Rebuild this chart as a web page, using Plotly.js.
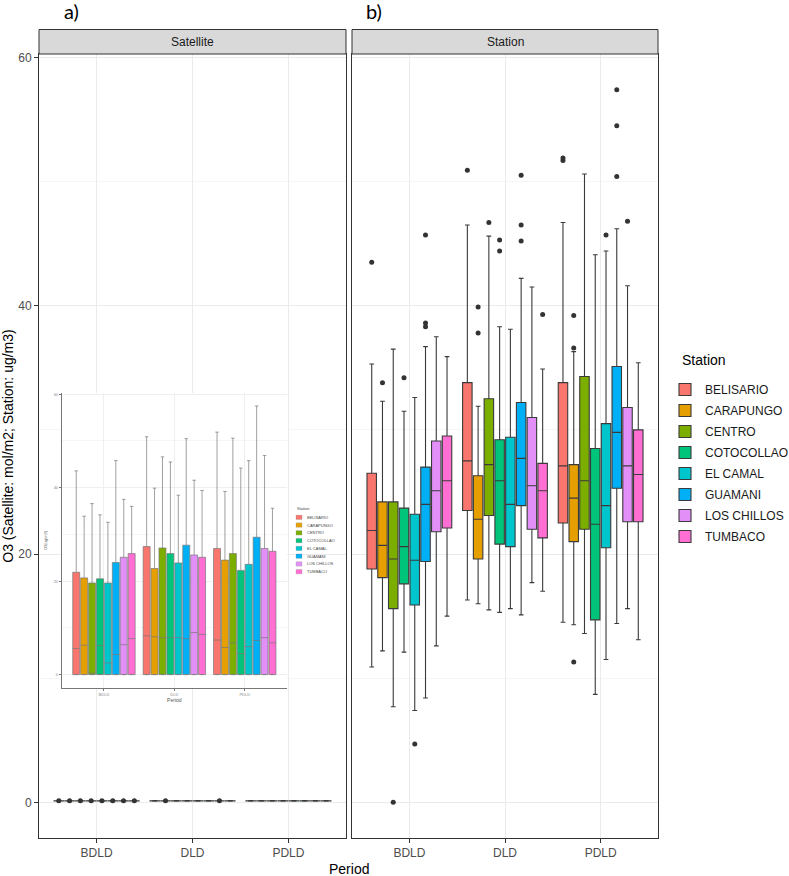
<!DOCTYPE html>
<html><head><meta charset="utf-8">
<script src="https://cdn.plot.ly/plotly-3.0.1.min.js"></script>
<style>html,body{margin:0;padding:0;background:#fff}</style>
</head><body><div id="chart" style="width:789px;height:876px"></div>
<script>
const periods = ['BDLD', 'DLD', 'PDLD'];
const stations = ['BELISARIO', 'CARAPUNGO', 'CENTRO', 'COTOCOLLAO', 'EL CAMAL', 'GUAMANI', 'LOS CHILLOS', 'TUMBACO'];
const colors = ['#F8766D', '#E69F00', '#7CAE00', '#00C47A', '#00C5CD', '#00B0F6', '#E38FF8', '#FF6FD3'];

// Station panel (ug/m3), each row = station, columns = [BDLD, DLD, PDLD]
const stLow = [[10.9,16.3,14.5],[12.2,16.0,14.3],[7.7,15.5,13.6],[12.1,15.3,8.7],[7.4,15.6,11.5],[8.4,15.1,14.4],[12.6,17.7,15.6],[15.0,17.0,13.1]];
const stQ1  = [[18.8,23.5,22.5],[18.1,19.6,21.0],[15.6,23.1,22.0],[17.6,20.8,14.7],[15.9,20.6,20.5],[19.4,23.9,25.3],[21.8,22.0,22.6],[22.1,21.3,22.6]];
const stMed = [[21.9,27.5,27.1],[20.7,22.8,24.5],[19.6,27.2,25.9],[20.6,25.9,22.4],[19.5,24.0,23.9],[24.0,27.7,29.8],[25.1,25.5,27.1],[25.9,25.1,26.4]];
const stQ3  = [[26.5,33.8,33.8],[24.2,26.3,27.2],[24.2,32.5,34.3],[23.7,29.2,28.5],[23.2,29.4,30.5],[27.0,32.2,35.1],[29.1,31.0,31.8],[29.5,27.3,30.0]];
const stHigh= [[35.3,46.5,46.7],[32.3,31.9,36.3],[36.5,45.6,50.6],[31.5,38.3,44.1],[32.6,38.1,44.4],[36.7,42.2,46.2],[37.5,41.5,41.6],[35.9,34.9,35.4]];
// Station outliers
const stOutPeriod = [
  ['BDLD','DLD','PDLD','PDLD'],
  ['BDLD','DLD','DLD','PDLD','PDLD','PDLD'],
  ['BDLD','DLD'],
  ['BDLD','DLD','DLD'],
  ['BDLD','PDLD'],
  ['BDLD','BDLD','BDLD','DLD','DLD','DLD','PDLD','PDLD','PDLD'],
  ['PDLD'],
  ['DLD']
];
const stOutValue = [
  [43.5,50.9,51.9,51.7],
  [33.8,39.9,37.8,39.2,36.6,11.3],
  [0.0,46.7],
  [34.2,45.3,44.4],
  [4.7,45.7],
  [38.3,38.6,45.7,50.5,46.5,45.2,57.4,54.5,50.4],
  [46.8],
  [39.3]
];

// Satellite panel (mol/m2) - all values close to zero
const satLow = [[0.10,0.10,0.10],[0.10,0.10,0.10],[0.10,0.10,0.10],[0.10,0.10,0.10],[0.10,0.10,0.10],[0.10,0.10,0.10],[0.10,0.10,0.10],[0.10,0.10,0.10]];
const satQ1  = [[0.11,0.11,0.11],[0.11,0.11,0.11],[0.11,0.11,0.11],[0.11,0.11,0.11],[0.11,0.11,0.11],[0.11,0.11,0.11],[0.11,0.11,0.11],[0.11,0.11,0.11]];
const satMed = [[0.12,0.12,0.12],[0.12,0.12,0.12],[0.12,0.12,0.12],[0.12,0.12,0.12],[0.12,0.12,0.12],[0.12,0.12,0.12],[0.12,0.12,0.12],[0.12,0.12,0.12]];
const satQ3  = [[0.13,0.13,0.13],[0.13,0.13,0.13],[0.13,0.13,0.13],[0.13,0.13,0.13],[0.13,0.13,0.13],[0.13,0.13,0.13],[0.13,0.13,0.13],[0.13,0.13,0.13]];
const satHigh= [[0.14,0.14,0.14],[0.14,0.14,0.14],[0.14,0.14,0.14],[0.14,0.14,0.14],[0.14,0.14,0.14],[0.14,0.14,0.14],[0.14,0.14,0.14],[0.14,0.14,0.14]];
const satOutPeriod = [['BDLD'],['BDLD','DLD'],['BDLD'],['BDLD'],['BDLD'],['BDLD'],['BDLD','DLD'],['BDLD']];
const satOutValue  = [[0.12],[0.12,0.12],[0.12],[0.12],[0.12],[0.12],[0.12,0.12],[0.12]];

// Inset (pasted small chart): boxes from 0, medians, upper whisker to max
const insQ3   = [[21.9,27.4,27.0],[20.7,22.7,24.5],[19.6,27.1,25.9],[20.5,25.9,22.3],[19.6,23.9,23.6],[24.0,27.7,29.4],[25.1,25.6,27.0],[25.9,25.1,26.4]];
const insMed  = [[5.6,8.3,7.4],[6.3,8.1,5.8],[0.3,7.9,6.8],[6.2,7.9,4.5],[2.5,7.9,6.0],[4.3,7.7,7.3],[6.4,9.0,7.9],[7.7,8.6,6.8]];
const insHigh = [[43.6,50.9,51.9],[33.9,39.9,39.2],[36.6,46.6,50.6],[34.2,45.5,44.2],[32.6,38.4,45.8],[45.8,50.5,57.5],[37.5,41.6,46.9],[36.0,39.4,35.6]];
const insLow  = [[0,0,0],[0,0,0],[0,0,0],[0,0,0],[0,0,0],[0,0,0],[0,0,0],[0,0,0]];

const traces = [];
stations.forEach((s, i) => {
  const common = {type:'box', x:periods, boxpoints:false, whiskerwidth:0.5, hoverinfo:'skip', legendgroup:s, name:s, fillcolor:colors[i], offsetgroup:s};
  traces.push(Object.assign({}, common, {xaxis:'x2', yaxis:'y2', alignmentgroup:'bst', q1:stQ1[i], median:stMed[i], q3:stQ3[i], lowerfence:stLow[i], upperfence:stHigh[i], line:{color:'#3a3a3a', width:1.1}, showlegend:true}));
  traces.push(Object.assign({}, common, {xaxis:'x', yaxis:'y', alignmentgroup:'bsat', q1:satQ1[i], median:satMed[i], q3:satQ3[i], lowerfence:satLow[i], upperfence:satHigh[i], line:{color:'#3a3a3a', width:1.1}, showlegend:false}));
  traces.push(Object.assign({}, common, {xaxis:'x3', yaxis:'y3', alignmentgroup:'bins', q1:insLow[i], median:insMed[i], q3:insQ3[i], lowerfence:insLow[i], upperfence:insHigh[i], line:{color:'#777', width:0.7}, showlegend:false}));
  traces.push({type:'scatter', mode:'markers', x:stOutPeriod[i], y:stOutValue[i], xaxis:'x2', yaxis:'y2', offsetgroup:s, alignmentgroup:'st', marker:{color:'#333', size:5}, showlegend:false, legendgroup:s, hoverinfo:'skip'});
  traces.push({type:'scatter', mode:'markers', x:satOutPeriod[i], y:satOutValue[i], xaxis:'x', yaxis:'y', offsetgroup:s, alignmentgroup:'sat', marker:{color:'#333', size:5}, showlegend:false, legendgroup:s, hoverinfo:'skip'});
});

const W = 619, H = 784, L = 39, T = 54;
const px = v => (v - L) / W;
const py = v => (T + H - v) / H;

const xbase = {type:'category', categoryorder:'array', categoryarray:periods, range:[-0.6, 2.6],
  showline:true, mirror:true, linecolor:'#333', linewidth:1, showgrid:true, gridcolor:'#ebebeb',
  ticks:'outside', ticklen:4, tickcolor:'#333', tickfont:{size:12, color:'#4d4d4d'}, zeroline:false, fixedrange:true};
const ybase = {range:[-2.87, 60.27], tickmode:'linear', tick0:0, dtick:20, showline:true, mirror:true, linecolor:'#333', linewidth:1,
  showgrid:true, gridcolor:'#ebebeb', minor:{tickmode:'linear', tick0:0, dtick:10, showgrid:true, gridcolor:'#f5f5f5', ticks:''},
  ticks:'outside', ticklen:4, tickcolor:'#333', tickfont:{size:12, color:'#4d4d4d'}, zeroline:false, fixedrange:true};

const shapes = [
  {type:'rect', xref:'paper', yref:'paper', x0:0, x1:px(346), y0:1, y1:py(29.5), fillcolor:'#d9d9d9', line:{color:'#333', width:1}},
  {type:'rect', xref:'paper', yref:'paper', x0:px(352), x1:1, y0:1, y1:py(29.5), fillcolor:'#d9d9d9', line:{color:'#333', width:1}},
  {type:'rect', xref:'x3 domain', yref:'y3 domain', x0:-0.1, x1:1.255, y0:-0.05, y1:1.02, fillcolor:'#ffffff', line:{width:0}, layer:'below'}
];
const annotations = [
  {text:'a)', xref:'paper', yref:'paper', x:px(62), y:py(11), xanchor:'left', yanchor:'middle', showarrow:false, font:{family:'Lato, sans-serif', size:20, color:'#000'}},
  {text:'b)', xref:'paper', yref:'paper', x:px(364), y:py(11), xanchor:'left', yanchor:'middle', showarrow:false, font:{family:'Lato, sans-serif', size:20, color:'#000'}},
  {text:'Satellite', xref:'paper', yref:'paper', x:px(192.5), y:py(42), xanchor:'center', yanchor:'middle', showarrow:false, font:{size:12, color:'#1a1a1a'}},
  {text:'Station', xref:'paper', yref:'paper', x:px(505), y:py(42), xanchor:'center', yanchor:'middle', showarrow:false, font:{size:12, color:'#1a1a1a'}},
  {text:'Period', xref:'paper', yref:'paper', x:0.5, y:py(869), xanchor:'center', yanchor:'middle', showarrow:false, font:{size:14, color:'#000'}},
  {text:'Station', xref:'paper', yref:'paper', x:px(680), y:py(360), xanchor:'left', yanchor:'middle', showarrow:false, font:{size:14, color:'#000'}},
  {text:'Station', xref:'paper', yref:'paper', x:px(295), y:py(509), xanchor:'left', yanchor:'middle', showarrow:false, font:{size:4, color:'#444'}}
];
stations.forEach((s, i) => {
  const yc = 517.3 + i * 7.77;
  shapes.push({type:'rect', xref:'paper', yref:'paper', x0:px(296), x1:px(302), y0:py(yc + 2.2), y1:py(yc - 2.2), fillcolor:colors[i], line:{color:'#999', width:0.3}});
  annotations.push({text:s, xref:'paper', yref:'paper', x:px(305), y:py(yc), xanchor:'left', yanchor:'middle', showarrow:false, font:{size:4, color:'#444'}});
});

const layout = {
  width:789, height:876, margin:{l:L, r:789 - L - W, t:T, b:876 - T - H, autoexpand:false}, paper_bgcolor:'#fff', plot_bgcolor:'#fff',
  font:{family:'Liberation Sans, Arial, sans-serif', color:'#4d4d4d'},
  boxmode:'group', boxgap:0.1, boxgroupgap:0.12, scattermode:'group', scattergap:0.1,
  hovermode:false,
  xaxis:Object.assign({}, xbase, {domain:[0, px(346)], anchor:'y'}),
  xaxis2:Object.assign({}, xbase, {domain:[px(352), 1], anchor:'y2'}),
  yaxis:Object.assign({}, ybase, {domain:[0, 1], anchor:'x', title:{text:'O3 (Satellite: mol/m2; Station: ug/m3)', font:{size:14, color:'#000'}, standoff:4}}),
  yaxis2:Object.assign({}, ybase, {domain:[0, 1], anchor:'x2', showticklabels:false, ticks:''}),
  xaxis3:{domain:[px(61.7), px(287)], anchor:'y3', type:'category', categoryorder:'array', categoryarray:periods, range:[-0.6, 2.6],
    showline:true, linecolor:'#555', linewidth:0.8, showgrid:true, gridcolor:'#efefef', ticks:'outside', ticklen:2, tickcolor:'#777',
    tickfont:{size:4, color:'#888'}, title:{text:'Period', font:{size:5, color:'#555'}, standoff:1}, zeroline:false, fixedrange:true},
  yaxis3:{domain:[py(688), py(393)], anchor:'x3', range:[-2.87, 60.27], tickmode:'linear', tick0:0, dtick:20,
    showline:true, linecolor:'#555', linewidth:0.8, showgrid:true, gridcolor:'#efefef', minor:{tickmode:'linear', tick0:0, dtick:10, showgrid:true, gridcolor:'#f6f6f6', ticks:''},
    ticks:'outside', ticklen:2, tickcolor:'#777', tickfont:{size:4, color:'#888'}, title:{text:'O3(ug/m3)', font:{size:4, color:'#555'}, standoff:6}, zeroline:false, fixedrange:true},
  legend:{x:px(665), y:py(375), xanchor:'left', yanchor:'top', traceorder:'grouped', tracegroupgap:2, font:{size:12, color:'#1a1a1a'}, bgcolor:'rgba(0,0,0,0)'},
  shapes:shapes, annotations:annotations
};

Plotly.newPlot('chart', traces, layout, {staticPlot:true, displayModeBar:false});
</script>
</body></html>
